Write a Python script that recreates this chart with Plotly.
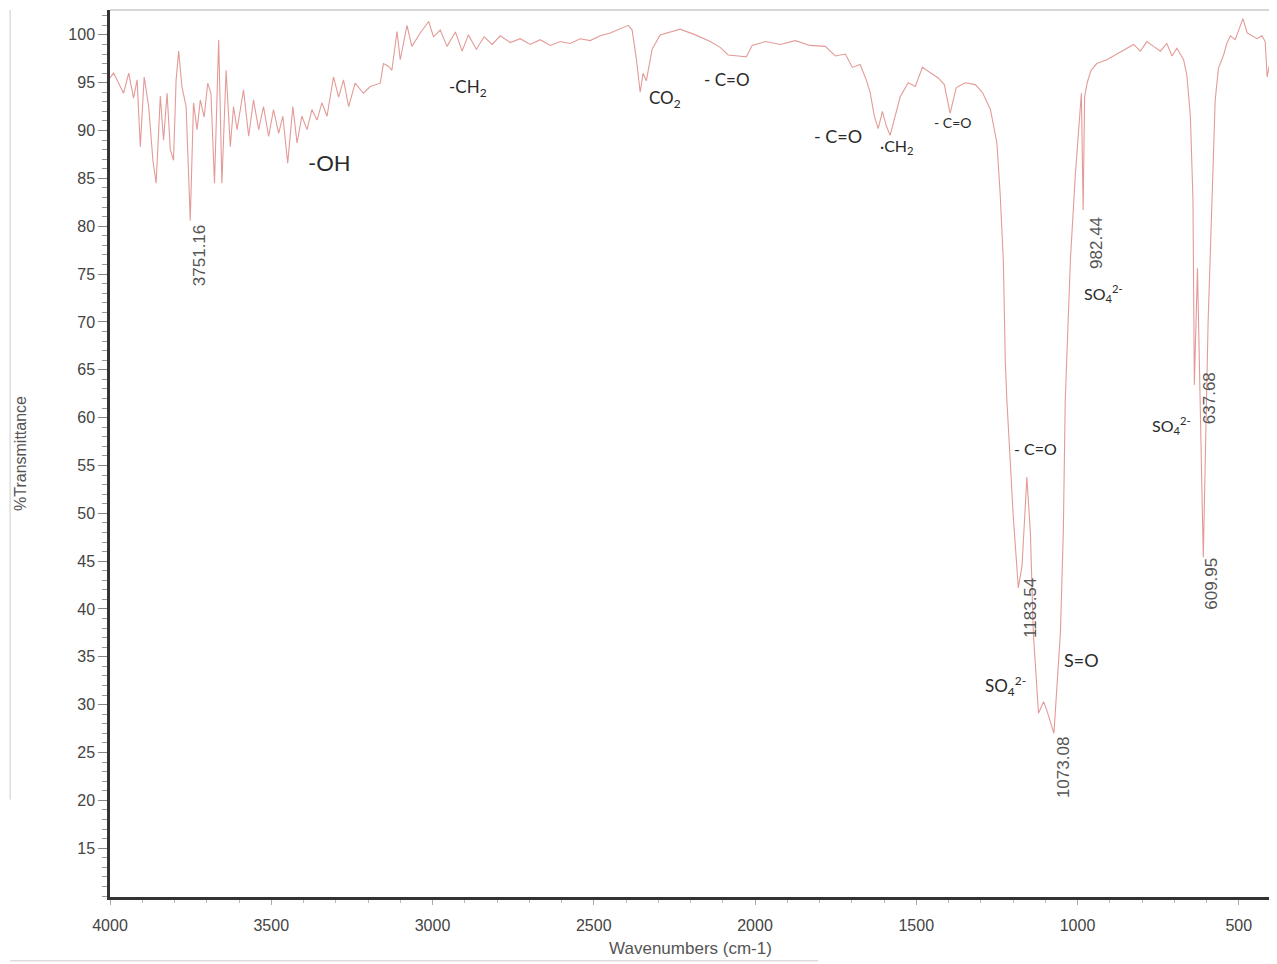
import plotly.graph_objects as go

# ---- data ----
wavenumber = [
    4000, 3989, 3973, 3958, 3942, 3927, 3916, 3906, 3894, 3880, 3867, 3857, 3844, 3834, 3823,
    3813, 3803, 3795, 3787, 3777, 3764, 3751.16, 3741, 3730, 3720, 3708, 3697, 3687, 3676, 3663,
    3653, 3640, 3627, 3617, 3606, 3586, 3570, 3555, 3539, 3524, 3508, 3493, 3477, 3464, 3449,
    3433, 3420, 3405, 3389, 3374, 3358, 3343, 3327, 3307, 3291, 3276, 3260, 3240, 3214, 3193,
    3162, 3152, 3136, 3126, 3110, 3100, 3079, 3064, 3038, 3012, 2997, 2976, 2955, 2929, 2908,
    2889, 2864, 2840, 2815, 2790, 2759, 2728, 2697, 2666, 2635, 2604, 2573, 2542, 2511, 2480,
    2449, 2418, 2393, 2381, 2368, 2356, 2347, 2337, 2319, 2294, 2263, 2232, 2185, 2139, 2108,
    2083, 2052, 2027, 2009, 1968, 1922, 1875, 1829, 1782, 1751, 1720, 1698, 1674, 1655, 1643,
    1630, 1618, 1605, 1593, 1581, 1565, 1550, 1525, 1503, 1481, 1456, 1432, 1413, 1395, 1376,
    1348, 1317, 1295, 1270, 1250, 1240, 1230, 1224, 1219, 1199, 1183.54, 1172, 1157, 1146, 1137,
    1121, 1105, 1095, 1073.08, 1053, 1044, 1038, 1033, 1022, 1007, 995, 988, 982.44, 978, 970,
    958, 940, 909, 878, 847, 826, 805, 785, 764, 743, 723, 707, 692, 671, 661, 650, 642,
    637.68, 628, 609.95, 595, 583, 573, 563, 547, 537, 526, 511, 495, 487, 474, 459, 443,
    428, 418, 412, 404, 400,
]
transmittance = [
    95.5, 96.0, 94.95, 93.9, 96.0, 93.4, 95.3, 88.3, 95.6, 92.5, 86.9, 84.5, 93.6, 89.0, 93.9,
    88.0, 86.9, 95.3, 98.3, 94.6, 92.5, 80.6, 92.9, 90.1, 93.2, 91.4, 94.95, 93.9, 84.5, 99.5,
    84.5, 96.3, 88.3, 92.5, 90.1, 94.25, 89.4, 93.2, 90.1, 92.5, 89.4, 92.2, 89.7, 91.5, 86.6,
    92.5, 88.7, 91.5, 90.1, 92.2, 91.1, 92.9, 91.5, 95.6, 93.5, 95.3, 92.5, 94.95, 93.9, 94.6,
    94.95, 97.0, 96.7, 96.3, 100.35, 97.4, 101.0, 98.8, 100.2, 101.4, 99.8, 100.5, 98.8, 100.3, 98.3,
    100.0, 98.5, 99.8, 99.0, 99.9, 99.2, 99.6, 99.0, 99.5, 98.9, 99.3, 99.1, 99.6, 99.4, 99.9,
    100.2, 100.6, 101.0, 100.5, 97.5, 94.0, 96.0, 95.2, 98.5, 100.0, 100.3, 100.6, 100.0, 99.3, 98.7,
    97.9, 97.8, 97.7, 98.9, 99.3, 99.0, 99.4, 98.9, 98.8, 97.8, 98.0, 96.6, 96.9, 95.3, 94.0,
    91.5, 90.2, 92.0, 90.5, 89.5, 91.5, 93.5, 95.0, 94.6, 96.6, 96.0, 95.5, 94.8, 91.8, 94.5,
    95.0, 94.8, 94.0, 92.2, 88.7, 83.5, 76.5, 66.0, 61.8, 49.6, 42.2, 44.5, 53.8, 47.9, 37.5,
    29.1, 30.3, 29.4, 27.0, 37.5, 48.0, 61.8, 66.0, 76.5, 85.2, 90.5, 93.9, 81.7, 93.5, 95.0,
    96.3, 97.0, 97.4, 98.0, 98.6, 99.0, 98.3, 99.3, 98.8, 98.3, 99.1, 97.8, 98.6, 97.4, 95.8, 91.5, 82.8,
    63.4, 75.6, 45.4, 70.0, 82.8, 93.2, 96.5, 97.9, 99.1, 99.9, 99.5, 100.9, 101.7, 100.2, 99.9, 99.6,
    99.9, 99.3, 95.6, 97.0, 96.7,
]

x_ticks = [4000, 3500, 3000, 2500, 2000, 1500, 1000, 500]
y_ticks = list(range(15, 101, 5))

peak_labels = ["3751.16", "982.44", "637.68", "1183.54", "609.95", "1073.08"]
peak_pos = [(3720, 80.3), (939, 81.2), (591, 65.0), (1146, 43.5), (585, 45.6), (1044, 26.8)]

group_labels = ["-OH", "-CH<sub>2</sub>", "CO<sub>2</sub>", "- C=O", "- C=O", "·CH<sub>2</sub>", "- C=O",
                "SO<sub>4</sub><sup>2-</sup>", "SO<sub>4</sub><sup>2-</sup>", "- C=O",
                "SO<sub>4</sub><sup>2-</sup>", "S=O"]
group_pos = [(3320, 86.7), (2889, 94.5), (2278, 93.3), (2086, 95.3), (1742, 89.4), (1559, 88.3),
             (1388, 90.8), (920, 73.0), (709, 59.2), (1131, 56.8), (1224, 32.0), (988, 34.7)]
group_size = [22, 17, 17, 17, 18, 16, 14, 16, 16, 16, 17, 18]

# ---- figure ----
fig = go.Figure()
fig.add_trace(go.Scatter(
    x=wavenumber, y=transmittance, mode="lines",
    line=dict(color="#e39b98", width=1.1), hoverinfo="skip", showlegend=False,
))

for txt, (px, py) in zip(peak_labels, peak_pos):
    fig.add_annotation(x=px, y=py, text=txt, textangle=-90, showarrow=False,
                       xanchor="center", yanchor="top",
                       font=dict(family="Liberation Sans, Arial", size=17, color="#555555"))

for txt, (px, py), sz in zip(group_labels, group_pos, group_size):
    fig.add_annotation(x=px, y=py, text=txt, showarrow=False,
                       font=dict(family="Lato, Noto Sans", size=sz, color="#2a2a2a"))

# faint frame lines (top and right border)
fig.add_shape(type="line", xref="paper", yref="paper", x0=0, x1=1, y0=1, y1=1,
              line=dict(color="#c8c8c8", width=1.5))
fig.add_shape(type="line", xref="paper", yref="paper", x0=1, x1=1, y0=0, y1=1,
              line=dict(color="#c8c8c8", width=1.5))
# faint page edges from the scanned sheet
fig.add_shape(type="line", xref="paper", yref="paper", x0=-0.086, x1=-0.086, y0=0.11, y1=1.0,
              line=dict(color="#dddddd", width=1.5))
fig.add_shape(type="line", xref="paper", yref="paper", x0=-0.086, x1=0.61, y0=-0.072, y1=-0.072,
              line=dict(color="#dddddd", width=1.5))

fig.update_layout(
    width=1269, height=956,
    margin=dict(l=102, r=6, t=2, b=67),
    paper_bgcolor="white", plot_bgcolor="white",
    font=dict(family="Liberation Sans, Arial", size=16, color="#444444"),
    xaxis=dict(
        range=[4000, 400], tickvals=x_ticks, ticktext=[str(v) for v in x_ticks],
        showgrid=False, zeroline=False, showline=True, linecolor="#333333", linewidth=2.5,
        ticks="outside", ticklen=5, tickcolor="#aaaaaa", tickwidth=1,
        ticklabelstandoff=7,
        minor=dict(dtick=100, ticks="outside", ticklen=3, tickcolor="#bbbbbb"),
        title=dict(text="Wavenumbers (cm-1)", font=dict(size=17, color="#555555"), standoff=10),
        tickfont=dict(size=16, color="#444444"),
    ),
    yaxis=dict(
        range=[9.9, 102.6], tickvals=y_ticks, ticktext=[str(v) for v in y_ticks],
        showgrid=False, zeroline=False, showline=True, linecolor="#333333", linewidth=2.5,
        ticks="outside", ticklen=9, tickcolor="#888888", tickwidth=1,
        minor=dict(dtick=1, tick0=10, ticks="outside", ticklen=5, tickcolor="#999999"),
        title=dict(text="%Transmittance", font=dict(size=16, color="#555555"), standoff=38),
        tickfont=dict(size=16, color="#444444"),
    ),
)

fig.write_html("out.html")
